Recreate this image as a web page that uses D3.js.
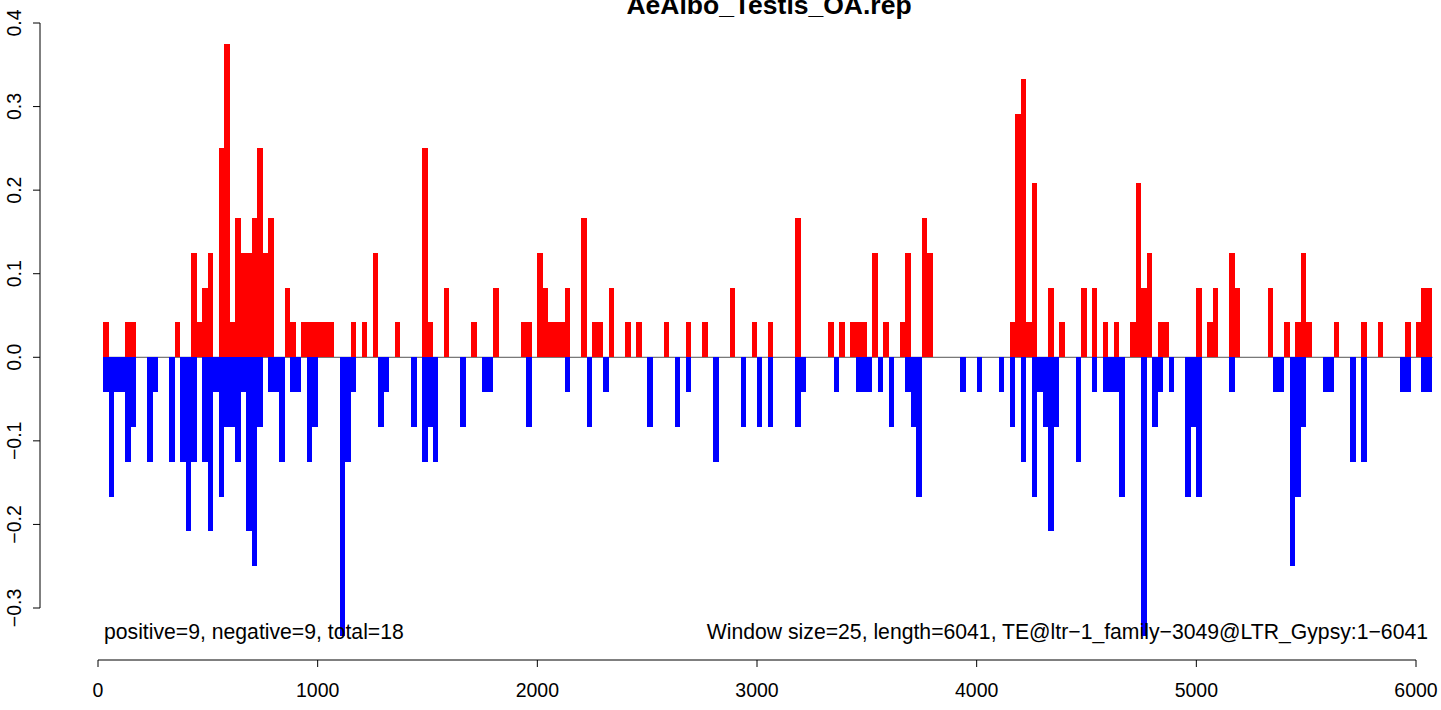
<!DOCTYPE html>
<html><head><meta charset="utf-8">
<script src="https://cdn.jsdelivr.net/npm/d3@7"></script>
<style>body{margin:0;background:#fff}svg{display:block}text{font-family:"Liberation Sans",Arial,sans-serif;fill:#000}</style>
</head><body><svg id="c" width="1441" height="710"></svg>
<script>
const title = "AeAlbo_Testis_OA.rep";
const xTicks = [0, 1000, 2000, 3000, 4000, 5000, 6000];
const yTicks = [-0.3, -0.2, -0.1, 0.0, 0.1, 0.2, 0.3, 0.4];
const windowSize = 25;
const seqLength = 6041;

const posStarts = [25,125,150,350,425,450,475,500,550,575,600,625,650,675,700,725,750,775,850,875,925,950,975,1000,1025,1050,1150,1200,1250,1350,1475,1500,1575,1700,1800,1925,1950,2000,2025,2050,2075,2100,2125,2200,2250,2275,2325,2400,2450,2575,2675,2750,2875,2975,3050,3175,3325,3375,3425,3450,3475,3525,3575,3650,3675,3750,3775,4150,4175,4200,4225,4250,4325,4375,4475,4525,4575,4625,4700,4725,4750,4775,4825,4850,5000,5050,5075,5150,5175,5325,5400,5450,5475,5500,5625,5750,5825,5950,6000,6025,6050];
const posValues = [0.0417,0.0417,0.0417,0.0417,0.125,
  0.0417,0.0833,0.125,0.25,0.375,
  0.0417,0.1667,0.125,0.125,0.1667,
  0.25,0.125,0.1667,0.0833,0.0417,
  0.0417,0.0417,0.0417,0.0417,0.0417,
  0.0417,0.0417,0.0417,0.125,0.0417,
  0.25,0.0417,0.0833,0.0417,0.0833,
  0.0417,0.0417,0.125,0.0833,0.0417,
  0.0417,0.0417,0.0833,0.1667,0.0417,
  0.0417,0.0833,0.0417,0.0417,0.0417,
  0.0417,0.0417,0.0833,0.0417,0.0417,
  0.1667,0.0417,0.0417,0.0417,0.0417,
  0.0417,0.125,0.0417,0.0417,0.125,
  0.1667,0.125,0.0417,0.2917,0.3333,
  0.0417,0.2083,0.0833,0.0417,0.0833,
  0.0833,0.0417,0.0417,0.0417,0.2083,
  0.0833,0.125,0.0417,0.0417,0.0833,
  0.0417,0.0833,0.125,0.0833,0.0833,
  0.0417,0.0417,0.125,0.0417,0.0417,
  0.0417,0.0417,0.0417,0.0417,0.0833,
  0.0833];

const negStarts = [25,50,75,100,125,150,225,250,325,375,400,425,475,500,525,550,575,600,625,650,675,700,725,775,800,825,875,900,950,975,1100,1125,1150,1275,1300,1425,1475,1500,1525,1650,1750,1775,1950,2125,2225,2300,2500,2625,2675,2800,2925,3000,3050,3175,3200,3350,3450,3475,3500,3550,3600,3675,3700,3725,3925,4000,4100,4150,4200,4250,4275,4300,4325,4350,4450,4525,4575,4600,4625,4650,4750,4800,4825,4875,4950,4975,5000,5150,5350,5375,5425,5450,5475,5575,5600,5700,5750,5925,5950,6025,6050];
const negValues = [-0.0417,-0.1667,-0.0417,-0.0417,-0.125,
  -0.0833,-0.125,-0.0417,-0.125,-0.125,
  -0.2083,-0.125,-0.125,-0.2083,-0.0417,
  -0.1667,-0.0833,-0.0833,-0.125,-0.0417,
  -0.2083,-0.25,-0.0833,-0.0417,-0.0417,
  -0.125,-0.0417,-0.0417,-0.125,-0.0833,
  -0.3333,-0.125,-0.0417,-0.0833,-0.0417,
  -0.0833,-0.125,-0.0833,-0.125,-0.0833,
  -0.0417,-0.0417,-0.0833,-0.0417,-0.0833,
  -0.0417,-0.0833,-0.0833,-0.0417,-0.125,
  -0.0833,-0.0833,-0.0833,-0.0833,-0.0417,
  -0.0417,-0.0417,-0.0417,-0.0417,-0.0417,
  -0.0833,-0.0417,-0.0833,-0.1667,-0.0417,
  -0.0417,-0.0417,-0.0833,-0.125,-0.1667,
  -0.0417,-0.0833,-0.2083,-0.0833,-0.125,
  -0.0417,-0.0417,-0.0417,-0.0417,-0.1667,
  -0.3333,-0.0833,-0.0417,-0.0417,-0.1667,
  -0.0833,-0.1667,-0.0417,-0.0417,-0.0417,
  -0.25,-0.1667,-0.0833,-0.0417,-0.0417,
  -0.125,-0.125,-0.0417,-0.0417,-0.0417,
  -0.0417];

const leftNote = "positive=9, negative=9, total=18";
const rightNote = "Window size=25, length=6041, TE@ltr\u22121_family\u22123049@LTR_Gypsy:1\u22126041";

const svg = d3.select("#c");
const x = d3.scaleLinear().domain([0, 6000]).range([98, 1416]);
const y = d3.scaleLinear().domain([-0.3, 0.4]).range([608, 23]);
const FS = 19.5;
const NOTE_FS = 21.2;

// zero line
svg.append("line")
  .attr("x1", x(windowSize)).attr("x2", x(posStarts[posStarts.length-1] + windowSize))
  .attr("y1", y(0)).attr("y2", y(0))
  .attr("stroke", "#555").attr("stroke-width", 1);

const pos = posStarts.map((s, i) => ({s, v: posValues[i]}));
const neg = negStarts.map((s, i) => ({s, v: negValues[i]}));

svg.append("g").attr("shape-rendering", "crispEdges").selectAll("rect").data(pos).join("rect")
  .attr("x", d => x(d.s)).attr("width", d => x(d.s + windowSize) - x(d.s))
  .attr("y", d => y(d.v)).attr("height", d => y(0) - y(d.v))
  .attr("fill", "#ff0000");

svg.append("g").attr("shape-rendering", "crispEdges").selectAll("rect").data(neg).join("rect")
  .attr("x", d => x(d.s)).attr("width", d => x(d.s + windowSize) - x(d.s))
  .attr("y", y(0)).attr("height", d => y(d.v) - y(0))
  .attr("fill", "#0000ff");

// x axis
const xa = svg.append("g");
const xAxisY = 660;
xa.append("line").attr("x1", x(xTicks[0])).attr("x2", x(xTicks[xTicks.length-1]))
  .attr("y1", xAxisY).attr("y2", xAxisY).attr("stroke", "#000");
xTicks.forEach(t => {
  xa.append("line").attr("x1", x(t)).attr("x2", x(t)).attr("y1", xAxisY).attr("y2", xAxisY + 7).attr("stroke", "#000");
  xa.append("text").attr("x", x(t)).attr("y", 697).attr("text-anchor", "middle")
    .attr("font-size", FS).text(t);
});

// y axis
const ya = svg.append("g");
const yAxisX = 40;
ya.append("line").attr("x1", yAxisX).attr("x2", yAxisX)
  .attr("y1", y(yTicks[0])).attr("y2", y(yTicks[yTicks.length-1])).attr("stroke", "#000");
const fmt = d3.format(".1f");
yTicks.forEach(t => {
  ya.append("line").attr("x1", yAxisX - 7).attr("x2", yAxisX).attr("y1", y(t)).attr("y2", y(t)).attr("stroke", "#000");
  ya.append("text").attr("transform", `translate(21,${y(t)}) rotate(-90)`)
    .attr("text-anchor", "middle").attr("font-size", FS).text(fmt(t));
});

// title (partly above the top edge, as in the reference)
svg.append("text").attr("x", 769).attr("y", 14).attr("text-anchor", "middle")
  .attr("font-size", 26.5).attr("font-weight", "bold").text(title);

// notes
svg.append("text").attr("x", 104).attr("y", 639).attr("font-size", NOTE_FS).text(leftNote);
svg.append("text").attr("x", 1428).attr("y", 639).attr("text-anchor", "end").attr("font-size", NOTE_FS).text(rightNote);
</script></body></html>
